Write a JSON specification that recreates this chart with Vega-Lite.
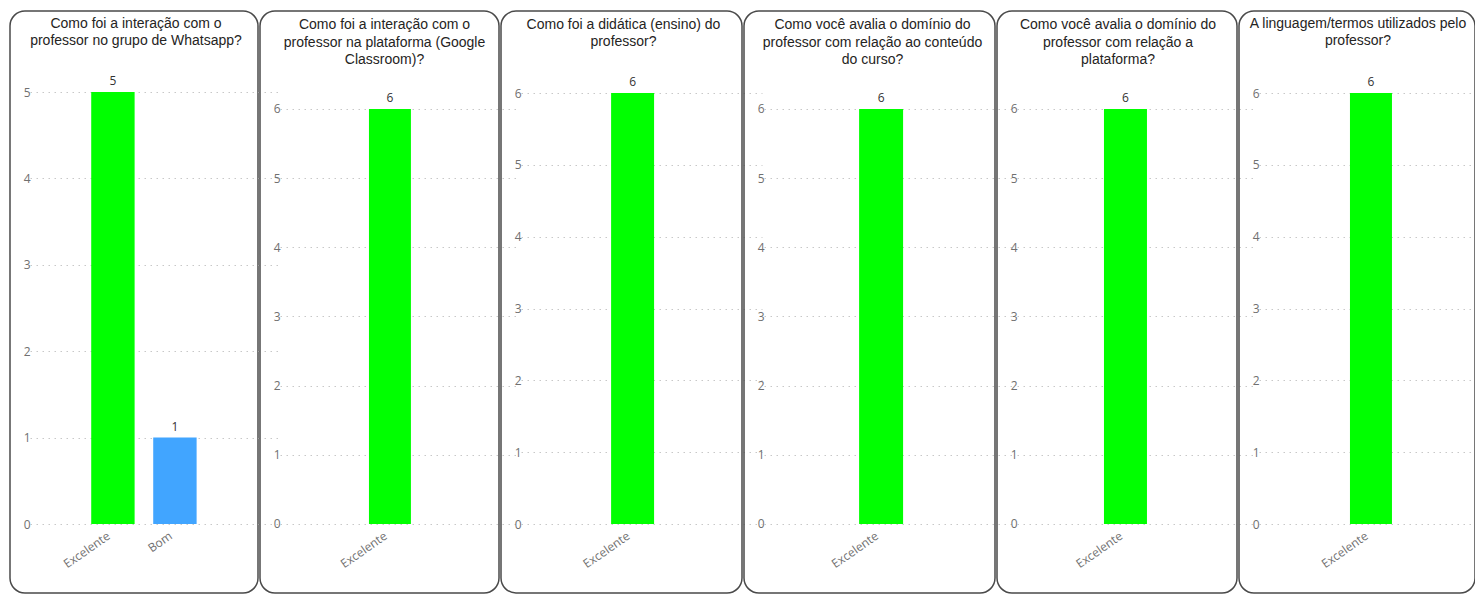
{
  "$schema": "https://vega.github.io/schema/vega-lite/v6.json",
  "padding": {"left": 9, "top": 10, "right": 0, "bottom": 0},
  "bounds": "flush",
  "spacing": 2,
  "background": "white",
  "hconcat": [
    {
      "width": 248, "height": 582,
      "title": {"text": ["Como foi a interação com o", "professor no grupo de Whatsapp?"], "dx": 2, "dy": 28},
      "data": {"values": [{"resposta": "Excelente", "quantidade": 5}, {"resposta": "Bom", "quantidade": 1}]},
      "encoding": {
        "x": {"field": "resposta", "type": "nominal", "sort": null, "title": null, "scale": {"paddingInner": 0, "paddingOuter": 1, "align": 0.58}},
        "y": {"field": "quantidade", "type": "quantitative", "title": null, "scale": {"domain": [-0.7986, 5.9375], "nice": false, "zero": false}, "axis": {"values": [0, 1, 2, 3, 4, 5]}}
      },
      "layer": [
        {"mark": {"type": "bar", "width": {"band": 0.7}}, "encoding": {"color": {"field": "resposta", "type": "nominal", "scale": {"domain": ["Excelente", "Bom"], "range": ["#00ff00", "#41a5ff"]}, "legend": null}}},
        {"mark": {"type": "text", "dy": -7, "baseline": "alphabetic"}, "encoding": {"text": {"field": "quantidade"}}}
      ]
    },
    {
      "width": 239, "height": 582,
      "title": {"text": ["Como foi a interação com o", "professor na plataforma (Google", "Classroom)?"], "dx": 5, "dy": 47},
      "data": {"values": [{"resposta": "Excelente", "quantidade": 6}]},
      "encoding": {
        "x": {"field": "resposta", "type": "nominal", "sort": null, "title": null, "scale": {"paddingInner": 0.574, "paddingOuter": 1, "align": 0.553}},
        "y": {"field": "quantidade", "type": "quantitative", "title": null, "scale": {"domain": [-0.9976, 7.4167], "nice": false, "zero": false}, "axis": {"values": [0, 1, 2, 3, 4, 5, 6]}}
      },
      "layer": [
        {"mark": "bar", "encoding": {"color": {"field": "resposta", "type": "nominal", "scale": {"domain": ["Excelente", "Bom"], "range": ["#00ff00", "#41a5ff"]}, "legend": null}}},
        {"mark": {"type": "text", "dy": -7, "baseline": "alphabetic"}, "encoding": {"text": {"field": "quantidade"}}}
      ]
    },
    {
      "width": 241, "height": 582,
      "title": {"text": ["Como foi a didática (ensino) do", "professor?"], "dx": 2, "dy": 29},
      "data": {"values": [{"resposta": "Excelente", "quantidade": 6}]},
      "encoding": {
        "x": {"field": "resposta", "type": "nominal", "sort": null, "title": null, "scale": {"paddingInner": 0.566, "paddingOuter": 1, "align": 0.556}},
        "y": {"field": "quantidade", "type": "quantitative", "title": null, "scale": {"domain": [-0.9606, 7.142], "nice": false, "zero": false}, "axis": {"values": [0, 1, 2, 3, 4, 5, 6]}}
      },
      "layer": [
        {"mark": "bar", "encoding": {"color": {"field": "resposta", "type": "nominal", "scale": {"domain": ["Excelente", "Bom"], "range": ["#00ff00", "#41a5ff"]}, "legend": null}}},
        {"mark": {"type": "text", "dy": -7, "baseline": "alphabetic"}, "encoding": {"text": {"field": "quantidade"}}}
      ]
    },
    {
      "width": 251, "height": 582,
      "title": {"text": ["Como você avalia o domínio do", "professor com relação ao conteúdo", "do curso?"], "dx": 3, "dy": 47},
      "data": {"values": [{"resposta": "Excelente", "quantidade": 6}]},
      "encoding": {
        "x": {"field": "resposta", "type": "nominal", "sort": null, "title": null, "scale": {"paddingInner": 0.575, "paddingOuter": 1, "align": 0.556}},
        "y": {"field": "quantidade", "type": "quantitative", "title": null, "scale": {"domain": [-0.9976, 7.4167], "nice": false, "zero": false}, "axis": {"values": [0, 1, 2, 3, 4, 5, 6]}}
      },
      "layer": [
        {"mark": "bar", "encoding": {"color": {"field": "resposta", "type": "nominal", "scale": {"domain": ["Excelente", "Bom"], "range": ["#00ff00", "#41a5ff"]}, "legend": null}}},
        {"mark": {"type": "text", "dy": -7, "baseline": "alphabetic"}, "encoding": {"text": {"field": "quantidade"}}}
      ]
    },
    {
      "width": 240, "height": 582,
      "title": {"text": ["Como você avalia o domínio do", "professor com relação a", "plataforma?"], "dx": 1, "dy": 47},
      "data": {"values": [{"resposta": "Excelente", "quantidade": 6}]},
      "encoding": {
        "x": {"field": "resposta", "type": "nominal", "sort": null, "title": null, "scale": {"paddingInner": 0.5635, "paddingOuter": 1, "align": 0.543}},
        "y": {"field": "quantidade", "type": "quantitative", "title": null, "scale": {"domain": [-0.9976, 7.4167], "nice": false, "zero": false}, "axis": {"values": [0, 1, 2, 3, 4, 5, 6]}}
      },
      "layer": [
        {"mark": "bar", "encoding": {"color": {"field": "resposta", "type": "nominal", "scale": {"domain": ["Excelente", "Bom"], "range": ["#00ff00", "#41a5ff"]}, "legend": null}}},
        {"mark": {"type": "text", "dy": -7, "baseline": "alphabetic"}, "encoding": {"text": {"field": "quantidade"}}}
      ]
    },
    {
      "width": 236, "height": 582,
      "title": {"text": ["A linguagem/termos utilizados pelo", "professor?"], "dx": 1, "dy": 28},
      "data": {"values": [{"resposta": "Excelente", "quantidade": 6}]},
      "encoding": {
        "x": {"field": "resposta", "type": "nominal", "sort": null, "title": null, "scale": {"paddingInner": 0.567, "paddingOuter": 1, "align": 0.572}},
        "y": {"field": "quantidade", "type": "quantitative", "title": null, "scale": {"domain": [-0.9606, 7.142], "nice": false, "zero": false}, "axis": {"values": [0, 1, 2, 3, 4, 5, 6]}}
      },
      "layer": [
        {"mark": "bar", "encoding": {"color": {"field": "resposta", "type": "nominal", "scale": {"domain": ["Excelente", "Bom"], "range": ["#00ff00", "#41a5ff"]}, "legend": null}}},
        {"mark": {"type": "text", "dy": -7, "baseline": "alphabetic"}, "encoding": {"text": {"field": "quantidade"}}}
      ]
    }
  ],
  "config": {
    "view": {"stroke": "#4a4a4a", "strokeWidth": 1.5, "cornerRadius": 15},
    "axisY": {"grid": true, "gridDash": [1.5, 4.5], "gridColor": "#c8c8c8", "domain": false, "ticks": false, "tickSize": 0, "labelPadding": 0, "offset": -20, "labelColor": "#707070", "labelFont": "Open Sans", "labelFontSize": 12},
    "axisX": {"grid": false, "domain": false, "ticks": false, "tickSize": 0, "labelPadding": 3, "labelOffset": -7, "offset": -66, "labelAngle": -35, "labelColor": "#707070", "labelFont": "Open Sans", "labelFontSize": 12},
    "title": {"font": "Liberation Sans", "fontSize": 14, "fontWeight": "normal", "color": "#252423", "lineHeight": 17.5, "anchor": "middle", "frame": "group", "baseline": "top", "offset": -9},
    "text": {"font": "Open Sans", "fontSize": 12, "color": "#333333"}
  }
}
